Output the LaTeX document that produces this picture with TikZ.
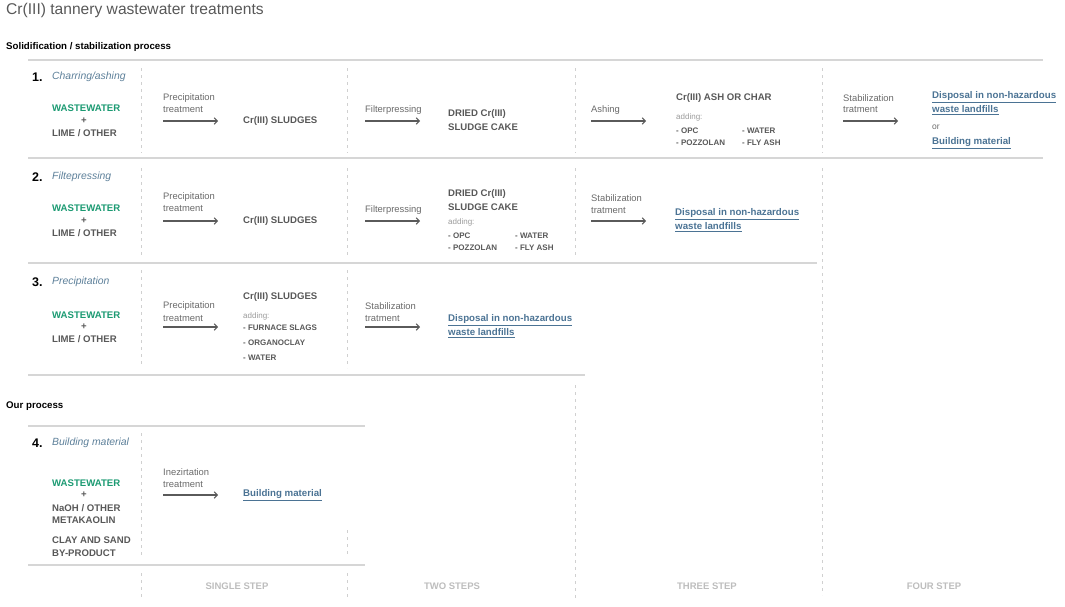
\documentclass[tikz,border=0pt]{standalone}
\usepackage{fontspec}
\setmainfont{Liberation Sans}
\usetikzlibrary{arrows.meta}
\definecolor{tx}{HTML}{585858}
\definecolor{lt}{HTML}{6A6A6A}
\definecolor{grn}{HTML}{1B9A72}
\definecolor{itc}{HTML}{5C7F99}
\definecolor{lnkc}{HTML}{4B7394}
\definecolor{stc}{HTML}{BDBDBD}
\definecolor{linec}{HTML}{D6D6D6}
\definecolor{dashc}{HTML}{D0D0D0}
\definecolor{addc}{HTML}{9A9A9A}
\definecolor{arrc}{HTML}{5A5A5A}
\begin{document}
\begin{tikzpicture}[x=1pt,y=-1pt,
  every node/.style={anchor=west, inner sep=0pt},
  bt/.style={font=\fontsize{9.6}{11}\selectfont\bfseries, text=tx},
  wat/.style={font=\fontsize{9.6}{11}\selectfont\bfseries, text=grn},
  lab/.style={font=\fontsize{9.4}{11}\selectfont, text=lt},
  num/.style={font=\fontsize{12.5}{14}\selectfont\bfseries, text=black},
  itl/.style={font=\fontsize{10.4}{12}\selectfont\itshape, text=itc},
  sm/.style={font=\fontsize{8}{9}\selectfont\bfseries, text=tx},
  addl/.style={font=\fontsize{8}{9}\selectfont, text=addc},
  lnk/.style={font=\fontsize{9.7}{11}\selectfont\bfseries, text=lnkc},
  steplab/.style={anchor=center, font=\fontsize{9.5}{11}\selectfont\bfseries, text=stc},
  sec/.style={font=\fontsize{9.7}{11}\selectfont\bfseries, text=black},
  hl/.style={draw=linec, line width=1.3pt},
  vd/.style={draw=dashc, line width=0.8pt, dash pattern=on 3pt off 4pt},
  arr/.style={draw=arrc, line width=1.1pt, -{Straight Barb[length=3pt,width=6.5pt]}}
]
\useasboundingbox (0,0) rectangle (1065,606);

% title and section headings
\node[font=\fontsize{15.6}{18}\selectfont, text=tx] (title) at (6,10) {Cr(III) tannery wastewater treatments};
\node[sec] (secA) at (6,47) {Solidification / stabilization process};
\node[sec] (secB) at (6,406) {Our process};

% horizontal rules
\draw[hl] (28,60) -- (1043,60);
\draw[hl] (28,158) -- (1043,158);
\draw[hl] (28,263) -- (817,263);
\draw[hl] (28,375) -- (585,375);
\draw[hl] (28,426) -- (365,426);
\draw[hl] (28,565) -- (365,565);

% dashed vertical separators
\foreach \x in {141,347,575,822}{
  \draw[vd] (\x,68) -- (\x,153);
}
\foreach \x in {141,347,575}{
  \draw[vd] (\x,168) -- (\x,258);
}
\draw[vd] (822,168) -- (822,595);
\draw[vd] (141,270) -- (141,366);
\draw[vd] (347,270) -- (347,368);
\draw[vd] (575,385) -- (575,598);
\draw[vd] (141,433) -- (141,558);
\draw[vd] (347,530) -- (347,556);
\draw[vd] (141,573) -- (141,600);
\draw[vd] (347,573) -- (347,600);

% ---------- Row 1 ----------
\node[num] (n1) at (32,77) {1.};
\node[itl] (h1) at (52,77) {Charring/ashing};
\node[wat] (w1) at (52,108) {WASTEWATER};
\node[bt, anchor=center] (p1) at (84,121) {+};
\node[bt] (l1) at (52,133) {LIME / OTHER};
\node[lab] (a1a) at (163,98) {Precipitation};
\node[lab] (a1b) at (163,110) {treatment};
\coordinate (a1s) at (163,121); \coordinate (a1e) at (218,121);
\draw[arr] (a1s) -- (a1e);
\node[bt] (s1) at (243,121) {Cr(III) SLUDGES};
\node[lab] (b1a) at (365,110) {Filterpressing};
\coordinate (b1s) at (365,121); \coordinate (b1e) at (420,121);
\draw[arr] (b1s) -- (b1e);
\node[bt] (d1a) at (448,114) {DRIED Cr(III)};
\node[bt] (d1b) at (448,127) {SLUDGE CAKE};
\node[lab] (c1a) at (591,110) {Ashing};
\coordinate (c1s) at (591,121); \coordinate (c1e) at (646,121);
\draw[arr] (c1s) -- (c1e);
\node[bt] (x1) at (676,98) {Cr(III) ASH OR CHAR};
\node[addl] (ad1) at (676,117) {adding:};
\node[sm] (o1) at (676,131) {- OPC};
\node[sm] (o2) at (742,131) {- WATER};
\node[sm] (o3) at (676,143) {- POZZOLAN};
\node[sm] (o4) at (742,143) {- FLY ASH};
\node[lab] (e1a) at (843,98) {Stabilization};
\node[lab] (e1b) at (843,110) {tratment};
\coordinate (e1s) at (843,121); \coordinate (e1e) at (898,121);
\draw[arr] (e1s) -- (e1e);
\node[lnk] (f1a) at (932,97) {\underline{Disposal in non-hazardous}};
\node[lnk] (f1b) at (932,110) {\underline{waste landfills}};
\node[lab, font=\fontsize{8.5}{10}\selectfont] (f1c) at (932,127) {or};
\node[lnk] (f1d) at (932,143) {\underline{Building material}};

% ---------- Row 2 ----------
\node[num] (n2) at (32,177) {2.};
\node[itl] (h2) at (52,177) {Filtepressing};
\node[wat] (w2) at (52,208) {WASTEWATER};
\node[bt, anchor=center] (p2) at (84,221) {+};
\node[bt] (l2) at (52,233) {LIME / OTHER};
\node[lab] (a2a) at (163,197) {Precipitation};
\node[lab] (a2b) at (163,209) {treatment};
\coordinate (a2s) at (163,221); \coordinate (a2e) at (218,221);
\draw[arr] (a2s) -- (a2e);
\node[bt] (s2) at (243,221) {Cr(III) SLUDGES};
\node[lab] (b2a) at (365,210) {Filterpressing};
\coordinate (b2s) at (365,221); \coordinate (b2e) at (420,221);
\draw[arr] (b2s) -- (b2e);
\node[bt] (d2a) at (448,194) {DRIED Cr(III)};
\node[bt] (d2b) at (448,207) {SLUDGE CAKE};
\node[addl] (ad2) at (448,222) {adding:};
\node[sm] (q1) at (448,236) {- OPC};
\node[sm] (q2) at (515,236) {- WATER};
\node[sm] (q3) at (448,248) {- POZZOLAN};
\node[sm] (q4) at (515,248) {- FLY ASH};
\node[lab] (e2a) at (591,198) {Stabilization};
\node[lab] (e2b) at (591,210) {tratment};
\coordinate (e2s) at (591,221); \coordinate (e2e) at (646,221);
\draw[arr] (e2s) -- (e2e);
\node[lnk] (f2a) at (675,214) {\underline{Disposal in non-hazardous}};
\node[lnk] (f2b) at (675,227) {\underline{waste landfills}};

% ---------- Row 3 ----------
\node[num] (n3) at (32,282) {3.};
\node[itl] (h3) at (52,282) {Precipitation};
\node[wat] (w3) at (52,315) {WASTEWATER};
\node[bt, anchor=center] (p3) at (84,327) {+};
\node[bt] (l3) at (52,339) {LIME / OTHER};
\node[lab] (a3a) at (163,306) {Precipitation};
\node[lab] (a3b) at (163,318) {treatment};
\coordinate (a3s) at (163,327); \coordinate (a3e) at (218,327);
\draw[arr] (a3s) -- (a3e);
\node[bt] (s3) at (243,297) {Cr(III) SLUDGES};
\node[addl] (ad3) at (243,316) {adding:};
\node[sm] (r1) at (243,328) {- FURNACE SLAGS};
\node[sm] (r2) at (243,343) {- ORGANOCLAY};
\node[sm] (r3) at (243,358) {- WATER};
\node[lab] (e3a) at (365,306) {Stabilization};
\node[lab] (e3b) at (365,318) {tratment};
\coordinate (e3s) at (365,327); \coordinate (e3e) at (420,327);
\draw[arr] (e3s) -- (e3e);
\node[lnk] (f3a) at (448,320) {\underline{Disposal in non-hazardous}};
\node[lnk] (f3b) at (448,333) {\underline{waste landfills}};

% ---------- Row 4 ----------
\node[num] (n4) at (32,443) {4.};
\node[itl] (h4) at (52,443) {Building material};
\node[wat] (w4) at (52,483) {WASTEWATER};
\node[bt, anchor=center] (p4) at (84,495) {+};
\node[bt] (l4a) at (52,508) {NaOH / OTHER};
\node[bt] (l4b) at (52,520) {METAKAOLIN};
\node[bt] (l4c) at (52,540) {CLAY AND SAND};
\node[bt] (l4d) at (52,553) {BY-PRODUCT};
\node[lab] (a4a) at (163,472) {Inezirtation};
\node[lab] (a4b) at (163,484) {treatment};
\coordinate (a4s) at (163,495); \coordinate (a4e) at (218,495);
\draw[arr] (a4s) -- (a4e);
\node[lnk] (g4) at (243,495) {\underline{Building material}};

% ---------- step labels ----------
\node[steplab] (st1) at (237,586) {SINGLE STEP};
\node[steplab] (st2) at (452,586) {TWO STEPS};
\node[steplab] (st3) at (707,586) {THREE STEP};
\node[steplab] (st4) at (934,586) {FOUR STEP};
\end{tikzpicture}
\end{document}
